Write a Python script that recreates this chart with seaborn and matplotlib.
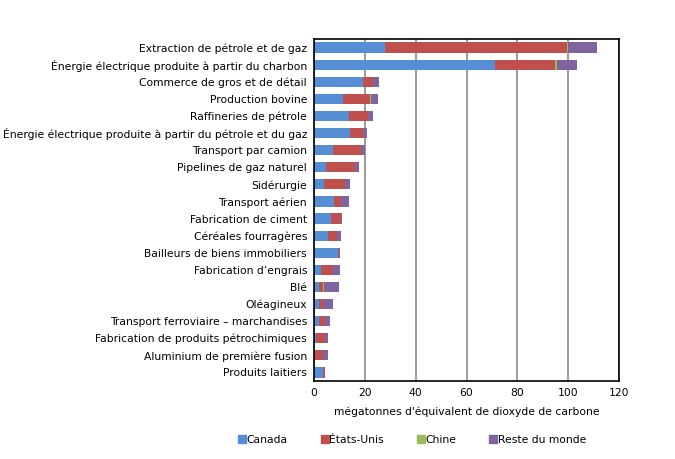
import matplotlib
matplotlib.use("Agg")
import matplotlib.pyplot as plt
import seaborn as sns
import numpy as np
import pandas as pd
from matplotlib.lines import Line2D

categories = [
    "Extraction de pétrole et de gaz",
    "Énergie électrique produite à partir du charbon",
    "Commerce de gros et de détail",
    "Production bovine",
    "Raffineries de pétrole",
    "Énergie électrique produite à partir du pétrole et du gaz",
    "Transport par camion",
    "Pipelines de gaz naturel",
    "Sidérurgie",
    "Transport aérien",
    "Fabrication de ciment",
    "Céréales fourragères",
    "Bailleurs de biens immobiliers",
    "Fabrication d\u2019engrais",
    "Blé",
    "Oléagineux",
    "Transport ferroviaire \u2013 marchandises",
    "Fabrication de produits pétrochimiques",
    "Aluminium de première fusion",
    "Produits laitiers",
]
canada = [27.8, 71.2, 19.1, 11.6, 13.6, 14.3, 7.6, 4.9, 4.1, 8.0,
          6.8, 5.7, 9.6, 2.9, 2.1, 2.1, 2.1, 0.9, 0.4, 3.7]
etats_unis = [71.9, 23.7, 4.3, 10.6, 7.5, 4.8, 10.8, 11.4, 8.0, 2.5,
              4.0, 3.5, 0.4, 4.7, 1.6, 1.6, 2.4, 3.3, 3.3, 0.8]
chine = [0.3, 0.8, 0.0, 0.4, 0.0, 0.0, 0.0, 0.0, 0.0, 0.0,
         0.0, 0.0, 0.0, 0.0, 0.4, 0.0, 0.0, 0.0, 0.0, 0.0]
reste = [11.3, 7.7, 2.0, 2.4, 2.3, 1.6, 1.6, 1.6, 2.2, 3.1,
         0.4, 1.6, 0.2, 2.8, 5.9, 3.9, 1.6, 1.5, 2.0, 0.0]
series_names = ["Canada", "États-Unis", "Chine", "Reste du monde"]
colors = ["#558ED5", "#C0504D", "#9BBB59", "#8064A2"]

df = pd.DataFrame({"cat": categories, "Canada": canada, "États-Unis": etats_unis,
                   "Chine": chine, "Reste du monde": reste})
cum = df[series_names].cumsum(axis=1)

sns.set_style("white")
plt.rcParams["font.family"] = ["DejaVu Sans"]
plt.rcParams["text.color"] = "black"
plt.rcParams["xtick.color"] = "black"
plt.rcParams["ytick.color"] = "black"
plt.rcParams["axes.labelcolor"] = "black"

fs = 7.75
fig = plt.figure(figsize=(6.75, 4.59), dpi=100)
ax = fig.add_axes([314/675, 1 - 381/459, 305/675, 342/459])

for name, col in reversed(list(zip(series_names, colors))):
    sns.barplot(x=cum[name], y=df["cat"], orient="h", color=col, width=0.6,
                saturation=1, ax=ax, linewidth=0, edgecolor=col)

ax.set_xlim(0, 120)
ax.set_xticks(np.arange(0, 121, 20))
ax.xaxis.grid(True, color="#8a8a8a", linewidth=1.2)
ax.set_axisbelow(True)
for s in ax.spines.values():
    s.set_color("black")
    s.set_linewidth(1.2)
ax.tick_params(axis="y", length=0, pad=5, labelsize=fs)
ax.tick_params(axis="x", length=0, pad=5, labelsize=fs)
ax.set_ylabel("")
ax.set_xlabel("mégatonnes d'équivalent de dioxyde de carbone", fontsize=fs, labelpad=6)

handles = [Line2D([0], [0], marker="s", linestyle="", markersize=5.5,
                  markerfacecolor=c, markeredgecolor=c) for c in colors]
fig.legend(handles, series_names, loc="center", bbox_to_anchor=(412/675, 1 - 440/459),
           ncol=4, frameon=False, fontsize=fs, handletextpad=0.05, columnspacing=3.0,
           handlelength=0.8)

fig.savefig("out.png", dpi=100, facecolor="white")
